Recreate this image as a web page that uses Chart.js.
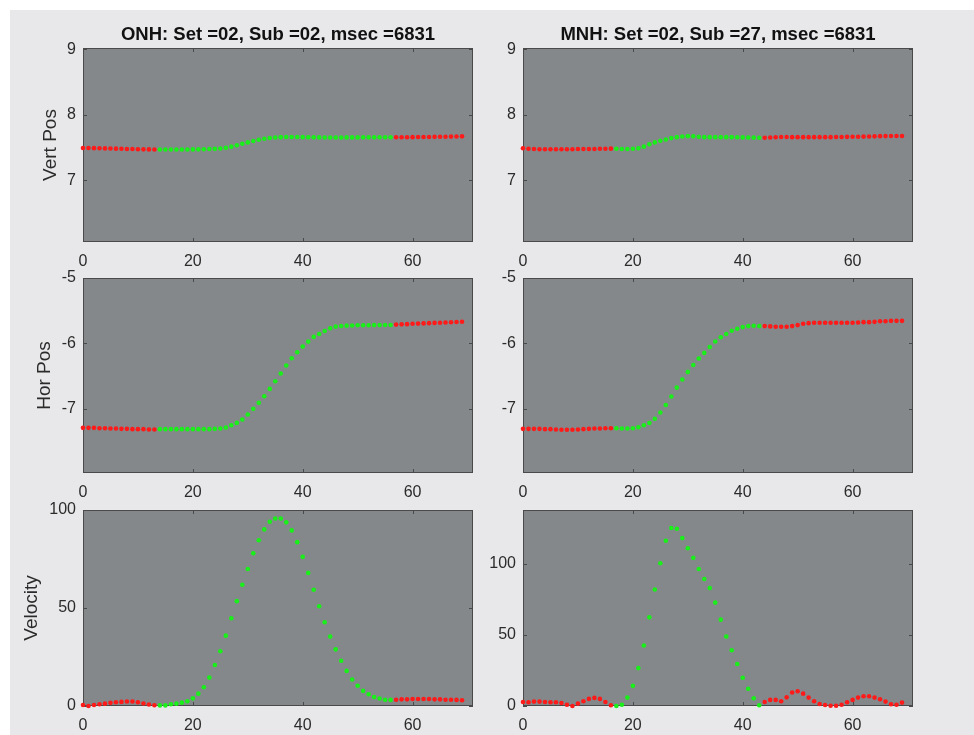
<!DOCTYPE html>
<html>
<head>
<meta charset="utf-8">
<script src="https://cdn.jsdelivr.net/npm/chart.js@4.4.1/dist/chart.umd.min.js"></script>
<style>
  html, body { margin: 0; padding: 0; background: #ffffff; }
  #fig { position: absolute; left: 10px; top: 10px; width: 964px; height: 725px; background: #e8e8ea; }
  canvas { position: absolute; }
</style>
</head>
<body>
<div id="fig"></div>
<canvas id="onhVertCv"></canvas>
<canvas id="mnhVertCv"></canvas>
<canvas id="onhHorCv"></canvas>
<canvas id="mnhHorCv"></canvas>
<canvas id="onhVelCv"></canvas>
<canvas id="mnhVelCv"></canvas>
<script>
// Sample numbers shared by every panel
const samples = [0,1,2,3,4,5,6,7,8,9,10,11,12,13,14,15,16,17,18,19,20,21,22,23,24,25,26,27,28,29,
  30,31,32,33,34,35,36,37,38,39,40,41,42,43,44,45,46,47,48,49,50,51,52,53,54,55,56,57,58,59,
  60,61,62,63,64,65,66,67,68,69];

// Saccade window (first, last sample) for each eye record
const onhSaccade = [14, 56];
const mnhSaccade = [17, 43];

// ONH record
const onhVert = [7.494,7.494,7.492,7.49,7.488,7.486,7.484,7.482,7.48,7.478,7.476,7.474,7.473,7.472,
  7.472,7.472,7.472,7.472,7.472,7.472,7.473,7.474,7.476,7.478,7.481,7.486,7.497,7.515,7.535,7.558,
  7.58,7.6,7.62,7.635,7.647,7.655,7.66,7.662,7.662,7.661,7.66,7.658,7.657,7.656,7.655,7.655,7.655,
  7.655,7.656,7.656,7.656,7.657,7.657,7.657,7.658,7.658,7.658,
  7.658,7.659,7.659,7.66,7.661,7.662,7.663,7.664,7.665,7.667,7.668,7.67,7.672];
const onhHor = [-7.29,-7.29,-7.29,-7.295,-7.295,-7.3,-7.3,-7.305,-7.305,-7.31,-7.31,-7.31,-7.315,-7.315,
  -7.31,-7.31,-7.31,-7.31,-7.31,-7.31,-7.31,-7.31,-7.31,-7.31,-7.305,-7.3,-7.285,-7.25,-7.214,-7.163,
  -7.087,-7.0,-6.908,-6.807,-6.695,-6.578,-6.46,-6.338,-6.226,-6.135,-6.048,-5.972,-5.9,-5.855,-5.809,
  -5.768,-5.743,-5.733,-5.728,-5.725,-5.723,-5.722,-5.721,-5.72,-5.72,-5.718,-5.718,
  -5.712,-5.708,-5.705,-5.7,-5.697,-5.694,-5.69,-5.686,-5.683,-5.68,-5.676,-5.672,-5.668];
const onhVel = [0.5,0,0.5,0.9,1.2,1.6,1.9,2.1,2.3,2.3,1.9,1.3,0.8,0.4,
  0.3,0.3,0.9,1.2,1.7,2.4,3.9,6.3,9.6,14.5,20.9,27.9,35.9,44.8,53.5,61.9,69.9,77.9,84.6,90.1,94.0,
  95.7,95.7,93.7,89.6,83.6,76.1,67.9,59.3,50.9,42.7,35.4,28.9,23.1,17.9,13.5,10.3,7.7,6.0,4.6,3.8,3.2,3.1,
  3.2,3.4,3.4,3.6,3.6,3.6,3.6,3.4,3.4,3.2,3.2,3.1,2.9];

// MNH record
const mnhVert = [7.49,7.482,7.478,7.476,7.476,7.476,7.476,7.476,7.476,7.476,7.478,7.478,7.478,7.48,7.482,7.482,7.484,
  7.482,7.48,7.48,7.482,7.49,7.515,7.55,7.58,7.605,7.625,7.645,7.66,7.67,7.675,7.672,7.665,7.66,7.66,7.66,
  7.66,7.66,7.66,7.658,7.656,7.655,7.652,7.65,
  7.65,7.654,7.658,7.662,7.662,7.66,7.66,7.66,7.66,7.66,7.66,7.66,7.66,7.662,7.663,7.664,7.665,7.666,
  7.668,7.67,7.672,7.675,7.676,7.677,7.677,7.677];
const mnhHor = [-7.305,-7.305,-7.305,-7.305,-7.31,-7.31,-7.315,-7.32,-7.32,-7.32,-7.315,-7.31,-7.305,-7.3,-7.3,-7.295,-7.295,
  -7.295,-7.3,-7.3,-7.295,-7.28,-7.25,-7.215,-7.15,-7.055,-6.94,-6.81,-6.675,-6.55,-6.435,-6.33,-6.23,
  -6.145,-6.055,-5.97,-5.905,-5.855,-5.805,-5.775,-5.75,-5.735,-5.73,-5.735,
  -5.735,-5.74,-5.745,-5.745,-5.745,-5.735,-5.72,-5.7,-5.69,-5.685,-5.685,-5.685,-5.685,-5.685,-5.685,
  -5.685,-5.685,-5.68,-5.675,-5.675,-5.67,-5.66,-5.66,-5.655,-5.655,-5.655];
const mnhVel = [2.8,2.6,3.1,3.1,2.8,2.6,2.6,2.1,0.9,0,1.7,3.3,5.0,5.7,5.0,2.8,0.5,
  0,0.9,5.9,14.2,26.7,42.6,62.4,82.0,100.5,116.3,125.3,124.8,118.2,111.1,104.3,96.5,89.4,83.0,
  72.8,60.8,48.9,39.2,29.6,19.9,12.1,5.4,0.5,
  2.8,4.3,4.3,3.3,6.1,9.5,10.4,8.7,5.9,3.3,1.4,0.7,0.2,0.2,0.9,2.6,4.3,5.9,6.9,6.9,5.9,4.7,3.1,1.2,0.9,2.4];

// Axis ticks
const xTicks = [0, 20, 40, 60];
const vertTicks = [7, 8, 9];
const horTicks = [-7, -6, -5];
const velTicks = [0, 50, 100];

const FONT = '"Liberation Sans", Arial, Helvetica, sans-serif';
const TEXT = '#2b2b2b';
const RED = '#ff1a1a';
const GREEN = '#19f019';
const TITLE_SIZE = 18.5;
const LABEL_SIZE = 19;

// Grey axes face, box outline and inward tick marks on all four sides
const panelFrame = {
  id: 'panelFrame',
  beforeDatasetsDraw(chart) {
    const { ctx, chartArea: a, scales: { x, y } } = chart;
    ctx.save();
    ctx.fillStyle = '#84888a';
    ctx.fillRect(a.left, a.top, a.right - a.left, a.bottom - a.top);
    ctx.strokeStyle = '#4a4a4a';
    ctx.lineWidth = 1;
    ctx.strokeRect(a.left + 0.5, a.top + 0.5, a.right - a.left - 1, a.bottom - a.top - 1);
    const tl = 4;
    ctx.beginPath();
    x.ticks.forEach(t => {
      const px = Math.round(x.getPixelForValue(t.value)) + 0.5;
      ctx.moveTo(px, a.bottom); ctx.lineTo(px, a.bottom - tl);
      ctx.moveTo(px, a.top); ctx.lineTo(px, a.top + tl);
    });
    y.ticks.forEach(t => {
      const py = Math.round(y.getPixelForValue(t.value)) + 0.5;
      ctx.moveTo(a.left, py); ctx.lineTo(a.left + tl, py);
      ctx.moveTo(a.right, py); ctx.lineTo(a.right - tl, py);
    });
    ctx.stroke();
    ctx.restore();
  }
};

// Each canvas keeps equal margins on both sides of its plot so the title centres over the axes
const cols = [
  { left: 10, plotLeft: 83, plotRight: 473 },
  { left: 485, plotLeft: 523, plotRight: 913 }
];
const rows = [
  { top: 10, height: 262, plotTop: 48, plotBottom: 242 },
  { top: 250, height: 255, plotTop: 278, plotBottom: 473 },
  { top: 485, height: 250, plotTop: 510, plotBottom: 706 }
];

function makePanel(id, col, row, values, saccade, yMin, yMax, yTicks, yLabel, labelGap, title) {
  const cv = document.getElementById(id);
  const side = col.plotLeft - col.left;
  const width = (col.plotRight - col.plotLeft) + 2 * side;
  cv.width = width; cv.height = row.height;
  cv.style.left = col.left + 'px'; cv.style.top = row.top + 'px';
  const titleH = row.plotTop - row.top;
  const titleLine = TITLE_SIZE * 1.2;
  const colors = samples.map(s => (s >= saccade[0] && s <= saccade[1]) ? GREEN : RED);
  new Chart(cv, {
    type: 'scatter',
    data: {
      datasets: [{
        data: samples.map((s, i) => ({ x: s, y: values[i] })),
        pointBackgroundColor: colors,
        pointBorderWidth: 0,
        pointRadius: 2.3,
        pointHoverRadius: 2.3,
        showLine: false,
        clip: false
      }]
    },
    options: {
      responsive: false,
      animation: false,
      devicePixelRatio: 1,
      layout: {
        padding: { left: 0, right: 0, top: title ? 0 : titleH, bottom: 0 }
      },
      plugins: {
        legend: { display: false },
        tooltip: { enabled: false },
        title: {
          display: !!title,
          text: title || '',
          color: '#111111',
          font: { family: FONT, size: TITLE_SIZE, weight: 'bold', lineHeight: 1.2 },
          padding: { top: 14, bottom: titleH - 14 - titleLine }
        }
      },
      scales: {
        x: {
          type: 'linear',
          min: 0, max: 71,
          grid: { display: false, drawTicks: false },
          border: { display: false },
          afterBuildTicks: s => { s.ticks = xTicks.map(v => ({ value: v })); },
          afterFit: s => { s.height = row.top + row.height - row.plotBottom; },
          ticks: { padding: 10, color: TEXT, font: { family: FONT, size: 16 }, maxRotation: 0, autoSkip: false }
        },
        y: {
          type: 'linear',
          min: yMin, max: yMax,
          grid: { display: false, drawTicks: false },
          border: { display: false },
          afterBuildTicks: s => { s.ticks = yTicks.map(v => ({ value: v })); },
          afterFit: s => { s.width = side; },
          ticks: { padding: 7, color: TEXT, font: { family: FONT, size: 16 }, autoSkip: false },
          title: {
            display: !!yLabel,
            text: yLabel || '',
            color: TEXT,
            font: { family: FONT, size: LABEL_SIZE },
            padding: { top: labelGap, bottom: 0 }
          }
        },
        // empty right-hand margin, same width as the left axis
        yMargin: {
          type: 'linear',
          position: 'right',
          grid: { display: false, drawTicks: false },
          border: { display: false },
          ticks: { display: false },
          afterFit: s => { s.width = side; }
        }
      }
    },
    plugins: [panelFrame]
  });
}

makePanel('onhVertCv', cols[0], rows[0], onhVert, onhSaccade, 6.06, 9.02, vertTicks, 'Vert Pos', 29, 'ONH: Set =02, Sub =02, msec =6831');
makePanel('mnhVertCv', cols[1], rows[0], mnhVert, mnhSaccade, 6.06, 9.02, vertTicks, null, 0, 'MNH: Set =02, Sub =27, msec =6831');
makePanel('onhHorCv', cols[0], rows[1], onhHor, onhSaccade, -7.98, -5, horTicks, 'Hor Pos', 23, null);
makePanel('mnhHorCv', cols[1], rows[1], mnhHor, mnhSaccade, -7.98, -5, horTicks, null, 0, null);
makePanel('onhVelCv', cols[0], rows[2], onhVel, onhSaccade, 0, 100, velTicks, 'Velocity', 10, null);
makePanel('mnhVelCv', cols[1], rows[2], mnhVel, mnhSaccade, 0, 138, velTicks, null, 0, null);
</script>
</body>
</html>
